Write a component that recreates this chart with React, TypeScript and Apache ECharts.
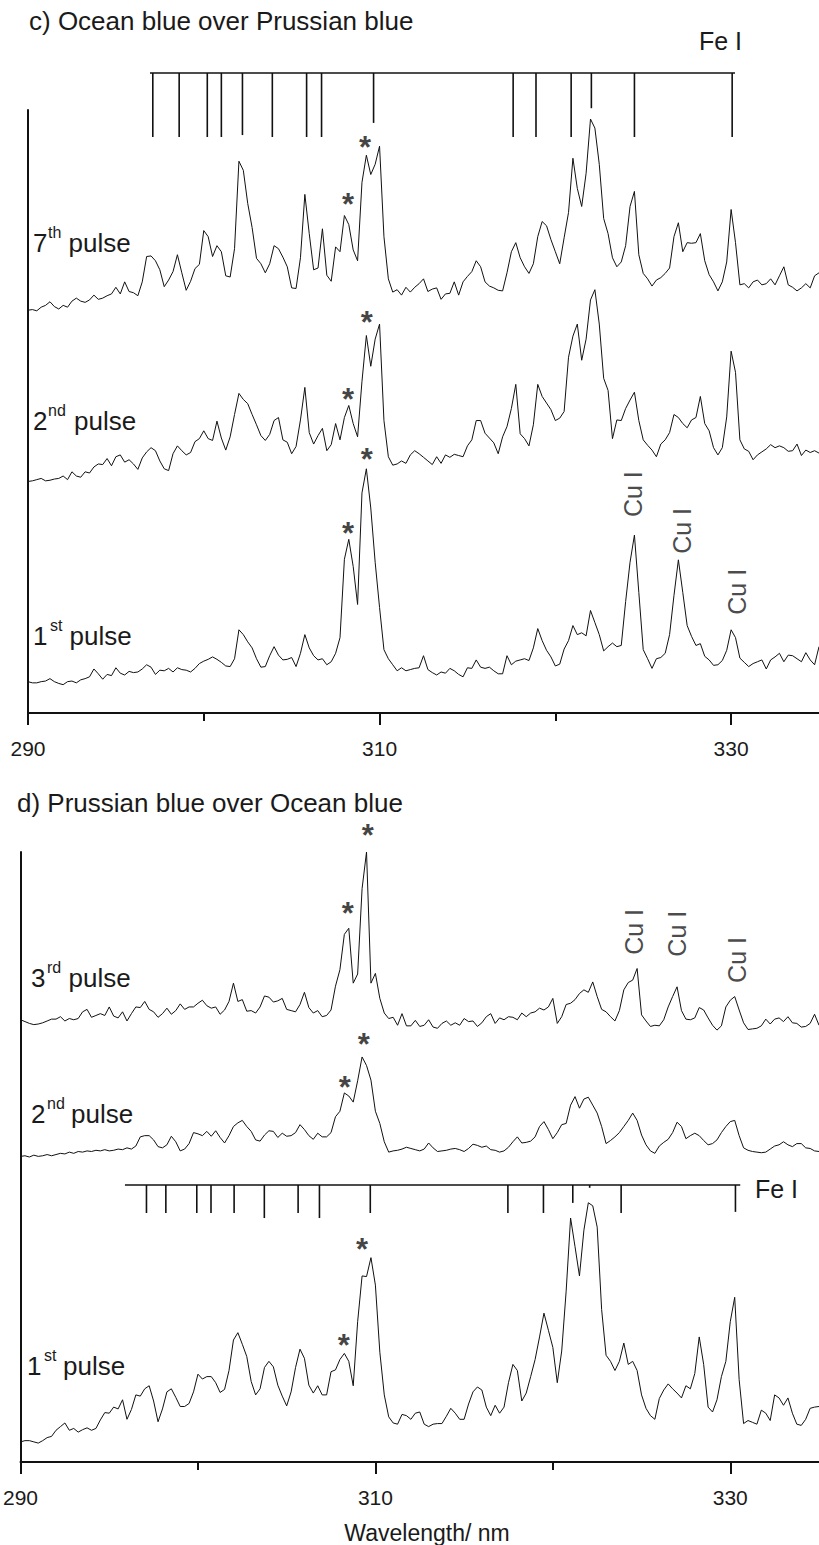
import React, { useEffect, useRef } from 'react';
import * as echarts from 'echarts';

// ---------- sampling grid of the spectra (nm) ----------
const WL_START = 290;
const WL_STEP = 0.25;

// ---------- panel c) Ocean blue over Prussian blue (stacked, arbitrary units) ----------
const c7th = [
  66.8, 66.9, 66.7, 67.3, 67.6, 68.2, 67.4, 67.0,
  67.6, 67.3, 68.3, 68.8, 68.3, 68.1, 68.5, 69.3,
  68.6, 68.8, 69.2, 69.5, 70.6, 69.5, 71.5, 69.9,
  69.7, 69.2, 71.5, 75.7, 75.8, 75.0, 73.5, 70.7,
  71.8, 73.2, 76.0, 73.0, 70.1, 71.6, 73.7, 74.4,
  80.0, 79.0, 75.7, 77.5, 76.5, 72.5, 72.3, 77.0,
  91.5, 90.0, 84.5, 80.5, 75.4, 74.5, 73.0, 74.5,
  77.5, 77.0, 75.6, 74.0, 70.5, 70.4, 75.5, 86.0,
  79.5, 73.5, 73.8, 80.3, 72.6, 71.6, 77.3, 76.5,
  82.5, 81.0, 76.8, 75.0, 88.0, 92.5, 89.3, 91.0,
  94.0, 79.0, 72.0, 69.8, 70.2, 69.3, 70.6, 69.8,
  70.6, 71.2, 72.0, 69.9, 70.3, 70.5, 68.6, 69.5,
  69.6, 71.5, 69.3, 71.5, 72.4, 73.2, 75.0, 74.0,
  71.5, 70.8, 70.5, 70.1, 70.0, 73.0, 76.5, 78.0,
  75.5, 74.0, 72.9, 74.5, 79.0, 81.5, 80.8, 78.5,
  76.5, 74.5, 78.8, 83.0, 92.0, 87.0, 84.0, 89.5,
  98.5, 97.0, 91.0, 82.0, 79.5, 75.5, 74.0, 74.8,
  77.5, 84.0, 86.5, 76.0, 72.9, 72.0, 70.8, 71.8,
  72.2, 72.9, 73.8, 79.0, 81.3, 76.5, 78.0, 77.9,
  78.0, 79.5, 75.0, 72.7, 71.5, 70.0, 71.5, 74.8,
  83.5, 78.0, 71.0, 71.2, 70.5, 71.5, 71.8, 71.0,
  71.2, 72.0, 71.0, 72.5, 74.0, 71.0, 70.6, 70.0,
  70.5, 71.2, 70.5, 72.5, 73.0,
];
const c2nd = [
  38.4, 38.5, 38.7, 38.9, 38.5, 38.6, 38.8, 38.9,
  39.3, 38.7, 40.0, 39.3, 39.1, 40.0, 39.8, 40.8,
  41.3, 41.2, 42.2, 41.0, 42.5, 42.8, 41.6, 42.0,
  41.3, 40.4, 42.3, 43.3, 44.0, 43.5, 41.8, 40.5,
  40.2, 43.0, 44.3, 43.5, 42.8, 43.2, 45.0, 45.5,
  46.8, 45.5, 45.2, 48.4, 45.6, 43.6, 45.8, 49.5,
  53.0, 52.0, 51.3, 49.5, 47.8, 46.0, 45.2, 46.2,
  48.5, 49.0, 45.3, 44.9, 43.0, 44.2, 48.6, 54.0,
  46.5, 44.6, 46.0, 47.2, 43.5, 44.5, 48.0, 45.3,
  49.0, 51.0, 48.0, 45.8, 55.0, 62.6, 57.5, 62.0,
  64.5, 48.5, 42.5, 41.1, 41.3, 41.8, 41.4, 42.8,
  43.5, 43.0, 42.4, 41.8, 41.2, 42.5, 41.4, 42.8,
  42.4, 42.9, 42.7, 42.5, 44.3, 45.3, 48.5, 48.5,
  46.4, 45.6, 44.8, 43.0, 45.8, 47.5, 50.5, 54.5,
  46.3, 45.5, 44.3, 47.8, 54.5, 52.5, 51.4, 50.3,
  48.5, 48.9, 50.0, 59.0, 62.5, 64.5, 58.5, 62.0,
  68.5, 70.2, 64.5, 55.5, 53.5, 45.5, 48.6, 48.5,
  50.5, 51.9, 53.2, 48.5, 45.3, 44.4, 43.6, 42.5,
  44.6, 45.3, 46.5, 49.5, 49.0, 48.0, 47.3, 48.6,
  49.0, 52.5, 48.0, 46.8, 44.0, 42.8, 44.0, 49.1,
  60.0, 56.5, 45.3, 43.8, 43.4, 42.0, 42.8, 43.3,
  43.8, 44.5, 44.0, 44.3, 44.0, 43.4, 43.5, 44.6,
  42.7, 43.6, 43.2, 43.5, 43.1,
];
const c1st = [
  5.2, 5.0, 5.0, 5.2, 5.3, 5.7, 5.2, 4.9,
  4.7, 5.2, 5.3, 5.0, 5.5, 5.7, 6.0, 7.3,
  6.5, 5.6, 6.4, 6.2, 7.5, 6.6, 6.3, 6.9,
  6.7, 6.8, 7.3, 8.0, 7.6, 6.4, 7.1, 7.0,
  7.4, 6.8, 7.5, 7.2, 7.1, 6.8, 7.4, 8.2,
  8.6, 8.9, 9.3, 8.9, 8.4, 7.8, 7.7, 9.0,
  13.8, 13.0, 11.8, 10.8, 9.0, 7.6, 7.7, 9.5,
  11.0, 9.6, 8.8, 8.9, 9.2, 7.7, 9.9, 13.0,
  10.8, 9.5, 8.8, 9.0, 8.0, 8.5, 9.9, 12.5,
  25.5, 28.8, 24.3, 18.0, 36.5, 40.5, 34.0, 25.0,
  17.5, 10.5, 9.0, 8.0, 7.0, 7.5, 7.0, 7.2,
  7.4, 7.5, 9.5, 7.2, 6.7, 6.3, 6.8, 6.6,
  7.4, 7.0, 6.4, 6.0, 7.5, 7.4, 8.8, 7.6,
  7.4, 7.6, 7.0, 6.5, 6.5, 9.5, 8.0, 8.6,
  8.8, 9.0, 8.7, 10.8, 14.0, 12.0, 10.4, 9.3,
  7.8, 8.1, 10.6, 12.0, 14.5, 13.0, 13.3, 12.8,
  17.0, 15.0, 13.0, 10.3, 11.0, 11.6, 11.0, 11.2,
  18.5, 25.0, 29.5, 20.0, 10.5, 9.0, 7.4, 9.0,
  9.2, 9.9, 13.0, 19.5, 25.4, 20.0, 14.5, 12.7,
  11.2, 11.5, 9.4, 8.8, 7.9, 8.0, 8.7, 10.4,
  13.8, 12.5, 9.1, 8.4, 7.7, 8.2, 8.5, 8.8,
  7.3, 8.8, 9.3, 9.9, 8.5, 9.6, 9.5, 9.0,
  8.5, 10.0, 8.8, 8.0, 11.0,
];

// ---------- panel d) Prussian blue over Ocean blue ----------
const d3rd = [
  72.5, 72.2, 71.9, 71.7, 71.8, 72.0, 72.3, 72.6,
  72.6, 73.0, 72.3, 72.7, 72.5, 72.7, 73.8, 74.2,
  72.9, 73.2, 73.5, 73.2, 74.6, 73.1, 72.8, 73.8,
  72.3, 73.5, 74.6, 74.5, 75.5, 74.2, 73.8, 72.9,
  73.5, 74.4, 73.4, 74.0, 75.1, 74.2, 74.6, 74.6,
  75.2, 75.7, 74.8, 74.4, 74.6, 73.4, 74.1, 75.5,
  78.5, 75.5, 75.8, 73.9, 74.0, 73.6, 74.6, 76.4,
  76.2, 75.4, 75.6, 76.0, 74.2, 74.0, 73.8, 75.0,
  77.0, 74.5, 73.6, 74.0, 73.0, 73.2, 74.1, 78.0,
  80.7, 86.5, 87.5, 78.5, 80.0, 94.0, 100.0, 78.5,
  80.1, 76.0, 73.6, 72.7, 72.9, 71.6, 73.5, 71.5,
  71.5, 72.4, 71.4, 71.6, 72.5, 71.3, 71.1, 71.9,
  72.3, 71.6, 72.0, 71.6, 72.7, 72.2, 72.3, 71.4,
  72.0, 73.0, 73.5, 71.9, 72.8, 72.5, 73.0, 72.9,
  72.5, 73.6, 73.0, 73.6, 73.8, 74.4, 74.1, 74.6,
  76.0, 71.9, 73.0, 75.0, 75.2, 75.8, 76.8, 77.4,
  77.0, 78.7, 76.3, 74.2, 73.8, 73.0, 72.3, 74.0,
  77.4, 78.6, 79.0, 80.9, 73.3, 72.3, 71.4, 71.6,
  71.5, 72.5, 74.6, 76.3, 77.9, 74.0, 72.6, 72.5,
  72.8, 74.5, 74.1, 72.8, 71.6, 70.8, 71.5, 74.6,
  75.7, 76.3, 74.1, 72.0, 70.9, 71.0, 71.1, 71.5,
  72.6, 71.8, 72.6, 72.8, 72.2, 73.0, 72.0, 71.9,
  71.3, 71.4, 71.9, 73.4, 71.6,
];
const d2nd = [
  50.1, 50.2, 50.0, 50.3, 50.1, 50.2, 50.4, 50.2,
  50.4, 50.6, 50.5, 50.8, 50.6, 50.9, 50.8, 51.0,
  50.9, 51.1, 51.0, 51.2, 51.0, 51.1, 51.3, 51.2,
  51.5, 51.3, 51.8, 53.3, 53.5, 53.5, 52.8, 51.7,
  51.5, 52.0, 53.4, 52.5, 51.0, 51.3, 52.2, 54.0,
  53.8, 53.5, 54.2, 53.4, 54.3, 53.2, 52.3, 53.5,
  55.0, 55.6, 56.0, 55.0, 54.2, 52.8, 52.6, 53.6,
  54.3, 54.2, 53.2, 53.9, 53.4, 53.5, 54.0, 55.3,
  54.5, 53.5, 52.9, 53.9, 53.3, 53.3, 54.0, 56.6,
  57.5, 60.5, 60.0, 59.0, 62.5, 66.4, 65.0, 62.6,
  57.5, 55.5, 52.5, 50.8, 51.0, 51.1, 51.3, 51.6,
  51.4, 51.2, 51.0, 51.3, 52.3, 51.5, 50.9, 51.0,
  51.1, 51.3, 51.4, 51.2, 50.9, 51.4, 52.1, 51.9,
  51.6, 51.8, 51.2, 51.1, 50.8, 51.0, 51.6, 52.5,
  53.3, 52.3, 52.4, 52.6, 53.3, 55.0, 55.8, 54.5,
  53.0, 54.0, 55.3, 55.5, 58.5, 59.9, 58.0, 59.5,
  59.8, 58.5, 57.2, 55.0, 52.2, 52.7, 53.3, 54.0,
  55.0, 56.0, 57.2, 56.0, 53.6, 52.0, 51.0, 50.6,
  51.8, 52.4, 52.9, 54.0, 55.7, 55.0, 53.0, 53.5,
  53.9, 53.5, 52.7, 52.0, 52.2, 52.8, 54.0, 55.0,
  55.8, 56.0, 53.5, 51.5, 51.1, 50.9, 50.8, 50.7,
  50.8, 51.3, 51.8, 52.0, 52.5, 52.0, 51.7, 52.2,
  52.2, 51.5, 51.4, 51.0, 50.9,
];
const d1st = [
  3.3, 3.5, 3.5, 3.3, 3.1, 3.5, 4.0, 4.2,
  5.2, 5.8, 6.4, 5.2, 5.5, 4.9, 5.3, 5.6,
  5.2, 5.5, 6.9, 8.1, 8.0, 9.0, 8.7, 10.2,
  7.0, 8.6, 11.0, 10.8, 12.0, 12.5, 10.0, 6.6,
  8.7, 11.5, 12.0, 10.6, 9.1, 9.1, 9.6, 11.5,
  14.4, 13.6, 14.0, 14.0, 13.0, 11.4, 11.9, 15.0,
  20.0, 21.2, 19.3, 17.3, 13.2, 11.0, 12.0, 15.5,
  16.5, 15.6, 12.6, 10.8, 9.2, 11.5, 15.5, 18.5,
  17.0, 12.6, 11.3, 12.5, 11.0, 11.0, 14.8, 15.1,
  16.8, 17.8, 16.5, 12.5, 23.0, 30.5, 30.4, 33.5,
  29.0, 18.0, 11.0, 7.4, 6.4, 6.2, 7.8, 7.6,
  7.0, 8.0, 8.2, 6.2, 5.8, 6.2, 6.3, 6.3,
  7.5, 8.8, 8.0, 7.0, 7.0, 9.5, 11.5, 12.3,
  11.8, 9.0, 7.6, 9.3, 8.0, 9.0, 13.0, 16.0,
  15.0, 10.0, 11.3, 14.0, 16.8, 20.5, 24.4, 21.6,
  18.8, 13.0, 18.2, 28.0, 40.0, 35.3, 30.5, 38.0,
  42.5, 42.0, 38.5, 25.0, 17.5, 16.5, 15.0, 16.5,
  19.5, 16.0, 16.5, 15.0, 11.0, 8.8, 7.6, 7.0,
  10.4, 11.8, 12.8, 12.0, 11.3, 10.5, 12.5, 12.0,
  14.5, 20.5, 16.0, 9.0, 8.2, 10.2, 14.0, 16.5,
  23.0, 27.0, 13.5, 6.3, 6.8, 6.5, 6.2, 8.5,
  8.0, 6.8, 11.0, 10.5, 9.3, 10.5, 8.0, 6.2,
  6.0, 7.0, 8.8, 9.0, 9.1,
];

// ---------- Fe I reference lines: [wavelength nm, tick end (0 = full, 1 = bracket)] ----------
const feSpanTop = [296.94, 330.22];
const feLinesTop = [
  [297.1, 0], [298.6, 0], [300.2, 0], [301.0, 0], [302.2, 0.03], [303.9, 0],
  [305.85, 0], [306.7, 0], [309.66, 0.22], [317.6, 0], [318.9, 0], [320.9, 0],
  [322.05, 0.45], [324.5, 0], [330.06, 0],
];
const feSpanBottom = [295.96, 330.57];
const feLinesBottom = [
  [297.17, 0], [298.26, 0], [300.0, 0], [300.8, 0], [302.1, 0], [303.8, -0.18],
  [305.7, 0], [306.9, -0.18], [309.76, 0], [317.5, 0], [319.5, 0], [321.15, 0.36],
  [322.1, 0.9], [323.87, 0], [330.3, 0.04],
];

// ---------- annotations (data coordinates) ----------
const starsTop = [[309.17, 95.0], [308.2, 85.6], [309.28, 66.0], [308.2, 53.2], [309.28, 43.3], [308.2, 31.0]];
const starsBottom = [[309.57, 103.9], [308.45, 91.1], [309.35, 69.7], [308.28, 62.6], [309.24, 36.1], [308.22, 20.3]];
const cuTop = [[324.41, 36.3], [327.2, 30.2], [330.33, 20.1]];
const cuBottom = [[324.59, 86.9], [327.01, 86.6], [330.38, 82.3]];

// ---------- axis ticks ----------
const MAJOR_TICKS = [290, 310, 330];
const MINOR_TICKS = [300, 320];
const X_MIN = 290;
const X_MAX = 335;

const INK = '#111111';
const TEXT = '#1a1a1a';
const FONT = '"Liberation Sans", Arial, Helvetica, sans-serif';

const pairs = (vals: number[]) => vals.map((v, i) => [WL_START + i * WL_STEP, v]);

function txt(text: string, x: number, y: number, size: number, align = 'left', extra: any = {}) {
  return {
    type: 'text',
    x,
    y,
    silent: true,
    style: {
      text,
      fontSize: size,
      fontFamily: FONT,
      fill: TEXT,
      align,
      textAlign: align,
      verticalAlign: 'middle',
      textVerticalAlign: 'middle',
      ...extra,
    },
  };
}

const PULSE_LABELS = [
  { num: '7', sup: 'th', nx: 33, sx: 48, px: 68.5, y: 243 },
  { num: '2', sup: 'nd', nx: 33, sx: 48, px: 74, y: 421 },
  { num: '1', sup: 'st', nx: 33, sx: 50, px: 69.5, y: 636 },
  { num: '3', sup: 'rd', nx: 31, sx: 47, px: 68.5, y: 978 },
  { num: '2', sup: 'nd', nx: 31, sx: 47, px: 71, y: 1114 },
  { num: '1', sup: 'st', nx: 27, sx: 44, px: 63, y: 1366 },
];

function pulseLabel(l: any) {
  return [
    txt(l.num, l.nx, l.y, 26),
    txt(l.sup, l.sx, l.y - 11, 16),
    txt('pulse', l.px, l.y, 26),
  ];
}

const mainX = (gridIndex: number) => ({
  type: 'value',
  gridIndex,
  min: X_MIN,
  max: X_MAX,
  interval: 20,
  position: 'bottom',
  axisLine: { show: true, onZero: false, lineStyle: { color: INK, width: 2 } },
  axisTick: { show: true, customValues: MAJOR_TICKS, length: 12, lineStyle: { color: INK, width: 2 } },
  axisLabel: { show: true, customValues: MAJOR_TICKS, margin: 25, fontSize: 21, fontFamily: FONT, color: TEXT },
  splitLine: { show: false },
});
const minorX = (gridIndex: number) => ({
  type: 'value',
  gridIndex,
  min: X_MIN,
  max: X_MAX,
  position: 'bottom',
  offset: 0,
  axisLine: { show: false, onZero: false },
  axisTick: { show: true, customValues: MINOR_TICKS, length: 8, lineStyle: { color: INK, width: 2 } },
  axisLabel: { show: false },
  splitLine: { show: false },
});
const hiddenX = (gridIndex: number) => ({ type: 'value', gridIndex, min: X_MIN, max: X_MAX, show: false });
const mainY = (gridIndex: number) => ({
  type: 'value',
  gridIndex,
  min: 0,
  max: 100,
  axisLine: { show: true, onZero: false, lineStyle: { color: INK, width: 2 } },
  axisTick: { show: false },
  axisLabel: { show: false },
  splitLine: { show: false },
});
const hiddenY = (gridIndex: number) => ({ type: 'value', gridIndex, min: 0, max: 1, show: false });

const spectrum = (data: number[], xAxisIndex: number, yAxisIndex: number) => ({
  type: 'line',
  xAxisIndex,
  yAxisIndex,
  data: pairs(data),
  showSymbol: false,
  symbol: 'none',
  clip: false,
  silent: true,
  lineStyle: { color: INK, width: 1 },
  emphasis: { disabled: true },
});

const bracket = (span: number[], xAxisIndex: number, yAxisIndex: number) => ({
  type: 'line',
  xAxisIndex,
  yAxisIndex,
  data: [[span[0], 1], [span[1], 1]],
  showSymbol: false,
  symbol: 'none',
  clip: false,
  silent: true,
  lineStyle: { color: INK, width: 1.6 },
});

const feTicks = (lines: number[][], xAxisIndex: number, yAxisIndex: number) => ({
  type: 'custom',
  xAxisIndex,
  yAxisIndex,
  data: lines,
  clip: false,
  silent: true,
  renderItem: (_p: any, api: any) => {
    const p1 = api.coord([api.value(0), 1]);
    const p2 = api.coord([api.value(0), api.value(1)]);
    return {
      type: 'line',
      shape: { x1: p1[0], y1: p1[1], x2: p2[0], y2: p2[1] },
      style: { stroke: INK, lineWidth: 1.6 },
    };
  },
});

const labels = (data: number[][], xAxisIndex: number, yAxisIndex: number, label: any) => ({
  type: 'scatter',
  xAxisIndex,
  yAxisIndex,
  data,
  symbolSize: 1,
  clip: false,
  silent: true,
  itemStyle: { color: 'rgba(0,0,0,0)' },
  label: { show: true, position: 'inside', fontFamily: FONT, color: TEXT, ...label },
});

const starLabel = { formatter: '*', fontSize: 31, fontWeight: 'bold', color: INK, offset: [0, 7.5] };
const cuLabel = { formatter: 'Cu I', fontSize: 25, rotate: 90 };

const option: any = {
  animation: false,
  backgroundColor: '#ffffff',
  grid: [
    { left: 28, right: 0, top: 110, height: 603 },
    { left: 28, right: 0, top: 73, height: 64 },
    { left: 19, right: 0, top: 852, height: 610 },
    { left: 19, right: 0, top: 1185, height: 28 },
  ],
  xAxis: [mainX(0), minorX(0), hiddenX(1), mainX(2), minorX(2), hiddenX(3)],
  yAxis: [mainY(0), hiddenY(1), mainY(2), hiddenY(3)],
  series: [
    spectrum(c7th, 0, 0),
    spectrum(c2nd, 0, 0),
    spectrum(c1st, 0, 0),
    spectrum(d3rd, 3, 2),
    spectrum(d2nd, 3, 2),
    spectrum(d1st, 3, 2),
    bracket(feSpanTop, 2, 1),
    feTicks(feLinesTop, 2, 1),
    bracket(feSpanBottom, 5, 3),
    feTicks(feLinesBottom, 5, 3),
    labels(starsTop, 0, 0, starLabel),
    labels(starsBottom, 3, 2, starLabel),
    labels(cuTop, 0, 0, cuLabel),
    labels(cuBottom, 3, 2, cuLabel),
  ],
  graphic: [
    txt('c) Ocean blue over Prussian blue', 29, 21, 26),
    txt('Fe I', 699, 41, 25),
    txt('d) Prussian blue over Ocean blue', 17, 803, 26),
    txt('Fe I', 755, 1189, 25),
    txt('Wavelength/ nm', 427, 1533, 23, 'center'),
    ...PULSE_LABELS.flatMap(pulseLabel),
  ],
};

export default function App() {
  const ref = useRef<HTMLDivElement>(null);
  useEffect(() => {
    if (!ref.current) return;
    const chart = echarts.init(ref.current, null, { renderer: 'svg' });
    chart.setOption(option);
    return () => chart.dispose();
  }, []);
  return (
    <div
      ref={ref}
      style={{ position: 'absolute', left: 0, top: 0, width: 819, height: 1545, background: '#ffffff' }}
    />
  );
}
